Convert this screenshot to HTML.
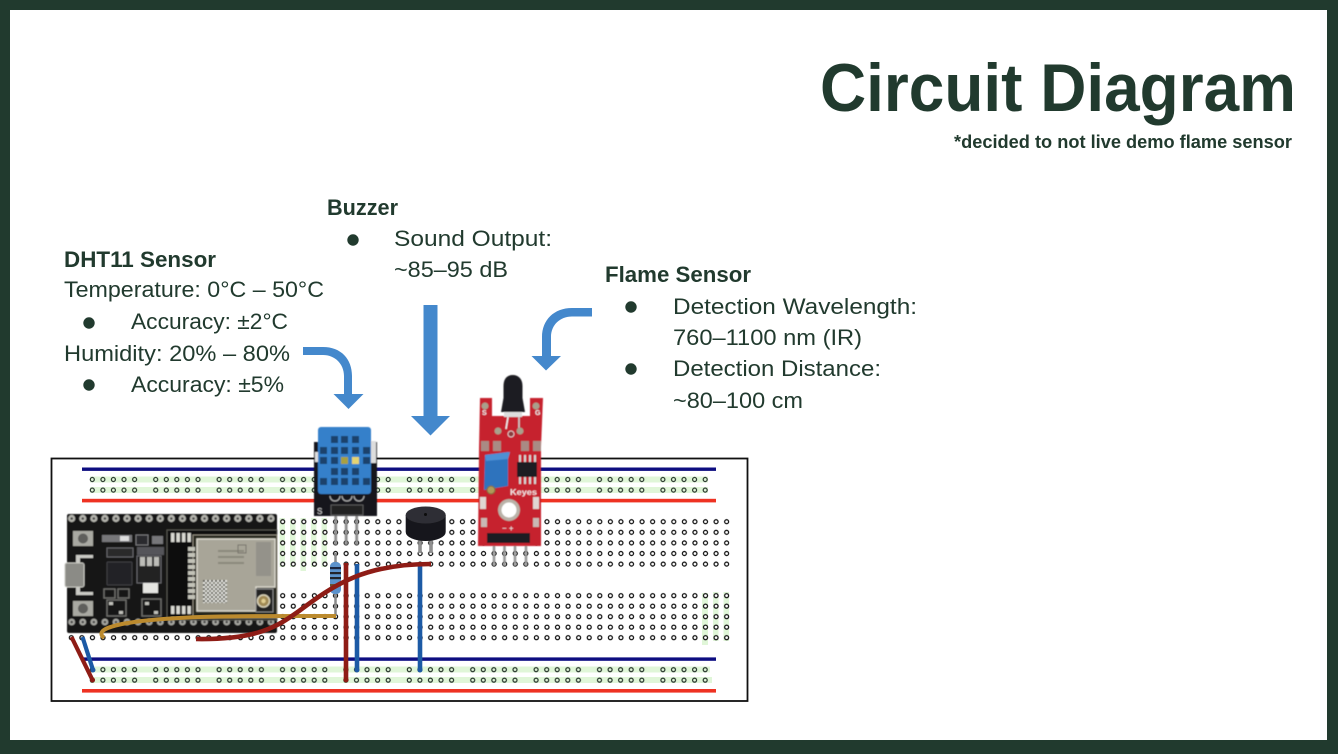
<!DOCTYPE html>
<html>
<head>
<meta charset="utf-8">
<title>Circuit Diagram</title>
<style>
html,body{margin:0;padding:0;width:1338px;height:754px;overflow:hidden;background:#213A2E}
svg{display:block}
text{font-family:"Liberation Sans",sans-serif;fill:#213A2E}
.r{font-size:22.5px}
.b{font-size:22.5px;font-weight:bold}
</style>
</head>
<body>
<svg width="1338" height="754" viewBox="0 0 1338 754" xmlns="http://www.w3.org/2000/svg">
<defs>
<pattern id="grid" patternUnits="userSpaceOnUse" x="66.02" y="516.4" width="10.57" height="10.6">
<circle cx="5.28" cy="5.3" r="2" fill="#fff" stroke="#111" stroke-width="1.25"/>
</pattern>
<pattern id="grid2" patternUnits="userSpaceOnUse" x="66.02" y="590.4" width="10.57" height="10.5">
<circle cx="5.28" cy="5.25" r="2" fill="#fff" stroke="#111" stroke-width="1.25"/>
</pattern>
<pattern id="rail" patternUnits="userSpaceOnUse" x="87" y="474.2" width="63.4" height="10.6">
<g fill="none" stroke="#25332a" stroke-width="1.2">
<circle cx="5.3" cy="5.3" r="2"/><circle cx="15.9" cy="5.3" r="2"/><circle cx="26.4" cy="5.3" r="2"/><circle cx="37" cy="5.3" r="2"/><circle cx="47.6" cy="5.3" r="2"/>
</g>
</pattern>
<pattern id="rail2" patternUnits="userSpaceOnUse" x="87" y="664.4" width="63.4" height="10.5">
<g fill="none" stroke="#25332a" stroke-width="1.2">
<circle cx="5.3" cy="5.25" r="2"/><circle cx="15.9" cy="5.25" r="2"/><circle cx="26.4" cy="5.25" r="2"/><circle cx="37" cy="5.25" r="2"/><circle cx="47.6" cy="5.25" r="2"/>
</g>
</pattern>
<pattern id="esph" patternUnits="userSpaceOnUse" x="66.2" y="513" width="11.07" height="11">
<circle cx="5.5" cy="5.5" r="3.6" fill="#b5b5ae"/><circle cx="5.5" cy="5.5" r="1.3" fill="#444"/>
</pattern>
<pattern id="esph2" patternUnits="userSpaceOnUse" x="66.2" y="616.5" width="11.07" height="11">
<circle cx="5.5" cy="5.5" r="3.4" fill="#a8a8a2"/><circle cx="5.5" cy="5.5" r="1.3" fill="#444"/>
</pattern>
<pattern id="pins" patternUnits="userSpaceOnUse" x="170" y="530" width="5.5" height="12">
<rect x="1" y="3" width="3.4" height="9" fill="#d9d9d2"/>
</pattern>
<pattern id="qr" patternUnits="userSpaceOnUse" x="203" y="580" width="4" height="4">
<rect width="4" height="4" fill="#e6e6e0"/><rect width="2" height="2" fill="#55554f"/><rect x="2" y="2" width="2" height="2" fill="#77776f"/>
</pattern>
<filter id="soft" x="-5%" y="-5%" width="110%" height="110%"><feGaussianBlur stdDeviation="0.6"/></filter>
<filter id="soft2" x="-5%" y="-5%" width="110%" height="110%"><feGaussianBlur stdDeviation="0.3"/></filter>
</defs>

<rect width="1338" height="754" fill="#213A2E"/>
<rect x="10" y="10" width="1317" height="730" fill="#fff"/>

<!-- Title -->
<text x="820" y="111" font-size="68" font-weight="bold" textLength="476" lengthAdjust="spacingAndGlyphs">Circuit Diagram</text>
<text x="954" y="148" font-size="18" font-weight="bold" textLength="338" lengthAdjust="spacingAndGlyphs">*decided to not live demo flame sensor</text>

<!-- DHT11 text -->
<text class="b" x="64" y="267" textLength="152" lengthAdjust="spacingAndGlyphs">DHT11 Sensor</text>
<text class="r" x="64" y="297" textLength="260" lengthAdjust="spacingAndGlyphs">Temperature: 0°C – 50°C</text>
<circle cx="89" cy="323" r="5.7" fill="#213A2E"/>
<text class="r" x="131" y="329" textLength="157" lengthAdjust="spacingAndGlyphs">Accuracy: ±2°C</text>
<text class="r" x="64" y="361" textLength="226" lengthAdjust="spacingAndGlyphs">Humidity: 20% – 80%</text>
<circle cx="89" cy="385" r="5.7" fill="#213A2E"/>
<text class="r" x="131" y="392" textLength="153" lengthAdjust="spacingAndGlyphs">Accuracy: ±5%</text>

<!-- Buzzer text -->
<text class="b" x="327" y="215" textLength="71" lengthAdjust="spacingAndGlyphs">Buzzer</text>
<circle cx="353" cy="240" r="5.7" fill="#213A2E"/>
<text class="r" x="394" y="246" textLength="158" lengthAdjust="spacingAndGlyphs">Sound Output:</text>
<text class="r" x="394" y="277" textLength="114" lengthAdjust="spacingAndGlyphs">~85–95 dB</text>

<!-- Flame text -->
<text class="b" x="605" y="282" textLength="146" lengthAdjust="spacingAndGlyphs">Flame Sensor</text>
<circle cx="631" cy="307" r="5.7" fill="#213A2E"/>
<text class="r" x="673" y="314" textLength="244" lengthAdjust="spacingAndGlyphs">Detection Wavelength:</text>
<text class="r" x="673" y="345" textLength="189" lengthAdjust="spacingAndGlyphs">760–1100 nm (IR)</text>
<circle cx="631" cy="369" r="5.7" fill="#213A2E"/>
<text class="r" x="673" y="376" textLength="208" lengthAdjust="spacingAndGlyphs">Detection Distance:</text>
<text class="r" x="673" y="408" textLength="130" lengthAdjust="spacingAndGlyphs">~80–100 cm</text>

<!-- Breadboard -->
<rect x="51.5" y="458.5" width="696" height="242.5" fill="#fff" stroke="#111" stroke-width="1.8"/>
<g filter="url(#soft2)">
<rect x="82" y="467.5" width="634" height="3.4" fill="#0b0b80"/>
<rect x="82" y="498.8" width="634" height="3.6" fill="#ee3124"/>
<rect x="82" y="657.4" width="634" height="3.4" fill="#0b0b80"/>
<rect x="82" y="689" width="634" height="3.6" fill="#ee3124"/>
<!-- green strips -->
<rect x="90" y="476.5" width="618" height="6" fill="#e0f6d8"/>
<rect x="90" y="487" width="618" height="6" fill="#e0f6d8"/>
<rect x="90" y="666.5" width="620" height="6" fill="#e0f6d8"/>
<rect x="90" y="677" width="622" height="6" fill="#e0f6d8"/>
<g fill="#e0f6d8">
<rect x="279.5" y="518" width="5.5" height="49"/><rect x="290" y="518" width="5.5" height="49"/><rect x="300.5" y="518" width="5.5" height="53"/><rect x="311" y="518" width="5.5" height="49"/><rect x="321.5" y="518" width="5.5" height="49"/>
<rect x="702" y="593" width="6" height="52"/><rect x="713" y="592" width="5.5" height="49"/><rect x="723.5" y="592" width="5.5" height="49"/>
</g>
<!-- holes -->
<rect x="87" y="474.2" width="634" height="21" fill="url(#rail)"/>
<rect x="87" y="664.4" width="634" height="21" fill="url(#rail2)"/>
<rect x="66.02" y="516.4" width="665.9" height="53" fill="url(#grid)"/>
<rect x="66.02" y="590.4" width="665.9" height="52.5" fill="url(#grid2)"/>
</g>

<!-- ESP32 board -->
<g filter="url(#soft)">
<rect x="67" y="514" width="210" height="119" rx="2" fill="#141416"/>
<rect x="67" y="514" width="210" height="11" fill="url(#esph)"/>
<rect x="67" y="617" width="210" height="11" fill="url(#esph2)"/>
<!-- USB -->
<path d="M76 555 H93 V558 H80 V592 H93 V595 H76Z" fill="#c9c9c4"/>
<rect x="65" y="563" width="19" height="24" rx="2" fill="#8b8b86" stroke="#c6c6c0" stroke-width="1"/>
<!-- Buttons -->
<rect x="73" y="531" width="20" height="15" fill="#a9a9a2"/><circle cx="83" cy="538.5" r="5" fill="#5f5f5b"/>
<rect x="73" y="601" width="20" height="15" fill="#a9a9a2"/><circle cx="83" cy="608.5" r="5" fill="#5f5f5b"/>
<!-- small parts -->
<rect x="102" y="535" width="30" height="7" fill="#77777a"/><rect x="120" y="536" width="9" height="5" fill="#ddd"/>
<rect x="107" y="548" width="26" height="9" fill="#2a2a2c" stroke="#66666a" stroke-width="1"/>
<rect x="136" y="535" width="12" height="10" fill="#2b2b2d" stroke="#77777a" stroke-width="1"/>
<rect x="152" y="536" width="11" height="8" fill="#77777a"/>
<rect x="137" y="547" width="27" height="8" fill="#55555a"/>
<!-- IC -->
<rect x="107" y="562" width="25" height="23" rx="1" fill="#232327" stroke="#3c3c40" stroke-width="1.2"/>
<!-- Regulator -->
<rect x="137" y="556" width="24" height="27" fill="#222224" stroke="#66666a" stroke-width="1"/>
<rect x="140" y="557" width="5" height="9" fill="#bdbdb8"/><rect x="147" y="557" width="5" height="9" fill="#bdbdb8"/><rect x="154" y="557" width="5" height="9" fill="#bdbdb8"/>
<rect x="143" y="583" width="15" height="10" fill="#e6e6e2"/>
<!-- lower squares -->
<g fill="none" stroke="#6e6e6a" stroke-width="1.4">
<rect x="104" y="589" width="11" height="9"/><rect x="118" y="589" width="11" height="9"/>
<rect x="107" y="600" width="19" height="16"/><rect x="142" y="599" width="19" height="17"/>
</g>
<g fill="#c0c0ba"><rect x="109" y="602" width="4" height="3"/><rect x="119" y="611" width="4" height="3"/><rect x="145" y="602" width="4" height="3"/><rect x="154" y="611" width="4" height="3"/></g>
<!-- Module -->
<rect x="167" y="530" width="110" height="90" fill="#0f0f11" stroke="#55554f" stroke-width="1"/>
<rect x="170" y="530" width="22" height="12" fill="url(#pins)"/>
<rect x="170" y="606" width="22" height="12" fill="url(#pins)"/>
<rect x="193" y="535" width="84" height="83" fill="#26261f" stroke="#8e897c" stroke-width="1"/>
<g fill="#c3c3b8">
<rect x="188" y="547" width="7" height="4"/><rect x="188" y="553" width="7" height="4"/><rect x="188" y="559" width="7" height="4"/><rect x="188" y="565" width="7" height="4"/><rect x="188" y="571" width="7" height="4"/><rect x="188" y="577" width="7" height="4"/><rect x="188" y="583" width="7" height="4"/><rect x="188" y="589" width="7" height="4"/><rect x="188" y="595" width="7" height="4"/>
</g>
<path d="M197 539 H275 V587 H256 V611 H197Z" fill="#a8a598" stroke="#d9d7cc" stroke-width="1.5"/>
<rect x="203" y="580" width="24" height="23" fill="url(#qr)"/>
<rect x="218" y="550" width="26" height="2" fill="#8a887c"/><rect x="218" y="556" width="26" height="2" fill="#8a887c"/><rect x="218" y="562" width="26" height="2" fill="#8a887c"/>
<rect x="238" y="545" width="8" height="8" fill="none" stroke="#77756a" stroke-width="1"/>
<rect x="256" y="542" width="15" height="34" fill="#94928a"/>
<rect x="256" y="589" width="17" height="23" fill="#202020" stroke="#888" stroke-width="1"/>
<circle cx="263.5" cy="601" r="6" fill="#a08a55" stroke="#d6d0b8" stroke-width="1.5"/>
<circle cx="263.5" cy="601" r="2.2" fill="#e0cd90"/>
</g>

<!-- resistor -->
<g filter="url(#soft2)">
<line x1="335.5" y1="553" x2="335.5" y2="616" stroke="#8a8a8a" stroke-width="2.5"/>
<rect x="330" y="562" width="11" height="32" rx="4.5" fill="#5b92cc"/>
<rect x="330" y="567" width="11" height="2.2" fill="#1b2740"/><rect x="330" y="572" width="11" height="2.2" fill="#20242a"/><rect x="330" y="577" width="11" height="2.2" fill="#20242a"/><rect x="330" y="584" width="11" height="2.2" fill="#6a5230"/>
</g>

<!-- wires -->
<g fill="none" stroke-linecap="butt" filter="url(#soft2)">
<path d="M104 638 C96 631 108 627 122 624 C170 615 250 616 336 616" stroke="#bb8a2d" stroke-width="4"/>
<line x1="82.5" y1="637" x2="93" y2="670" stroke="#1f5aa5" stroke-width="4.2"/>
<line x1="71.5" y1="637" x2="92.5" y2="680" stroke="#8e1a12" stroke-width="4.2"/>
<line x1="357" y1="564" x2="357" y2="670" stroke="#1f5aa5" stroke-width="4.6"/>
<line x1="420" y1="564" x2="420" y2="670" stroke="#1f5aa5" stroke-width="4.6"/>
<path d="M196 639 C258 640 278 626 299 611 C335 584 365 564 431 564" stroke="#8e1a12" stroke-width="4.6"/>
<line x1="346" y1="563" x2="346" y2="680" stroke="#8e1a12" stroke-width="4.6"/>
</g>
<g fill="#8e1a12"><circle cx="92.5" cy="680" r="2.5"/><circle cx="346" cy="680" r="2.5"/></g>
<g fill="#1f5aa5"><circle cx="93" cy="670" r="2.5"/><circle cx="357" cy="670" r="2.5"/><circle cx="420" cy="670" r="2.5"/></g>

<!-- DHT11 -->
<g filter="url(#soft)">
<g stroke="#8f8f8f" stroke-width="2.8"><line x1="335.7" y1="512" x2="335.7" y2="545"/><line x1="346.2" y1="512" x2="346.2" y2="545"/><line x1="356.7" y1="512" x2="356.7" y2="545"/></g>
<rect x="314" y="442" width="63" height="74" fill="#14141a"/>
<rect x="370" y="441" width="6" height="22" fill="#ddd"/>
<rect x="315" y="452" width="4" height="10" fill="#ddd"/>
<rect x="331" y="505" width="32" height="10" fill="#222" stroke="#666" stroke-width="0.8"/>
<path d="M330 496 a5 5 0 0 0 10 0 M342 496 a5 5 0 0 0 10 0 M354 496 a5 5 0 0 0 10 0" fill="none" stroke="#aaa" stroke-width="1.2"/>
<rect x="318" y="427" width="53" height="67" rx="3" fill="#3580ca"/>
<g fill="#1d426c">
<rect x="331" y="436" width="7" height="7"/><rect x="341" y="436" width="7" height="7"/><rect x="352" y="436" width="7" height="7"/>
<rect x="320" y="447" width="7" height="7"/><rect x="331" y="447" width="7" height="7"/><rect x="341" y="447" width="7" height="7"/><rect x="352" y="447" width="7" height="7"/><rect x="363" y="447" width="7" height="7"/>
<rect x="320" y="457" width="7" height="7"/><rect x="331" y="457" width="7" height="7"/><rect x="363" y="457" width="7" height="7"/>
<rect x="331" y="468" width="7" height="7"/><rect x="341" y="468" width="7" height="7"/><rect x="352" y="468" width="7" height="7"/>
<rect x="320" y="478" width="7" height="7"/><rect x="331" y="478" width="7" height="7"/><rect x="341" y="478" width="7" height="7"/><rect x="352" y="478" width="7" height="7"/><rect x="363" y="478" width="7" height="7"/>
</g>
<rect x="341" y="457" width="7" height="7" fill="#a8a040"/><rect x="352" y="457" width="7" height="7" fill="#e5d470"/>
<text x="317" y="514" font-size="8" style="fill:#ddd">S</text>
</g>

<!-- Buzzer -->
<g filter="url(#soft2)">
<g stroke="#8f8f8f" stroke-width="3.6"><line x1="420" y1="538" x2="420" y2="553"/><line x1="431" y1="538" x2="431" y2="553"/></g>
<path d="M405.7 515 V532 A20 9 0 0 0 445.7 532 V515Z" fill="#18181b"/>
<ellipse cx="425.7" cy="515" rx="20" ry="8.5" fill="#2f2f34"/>
<circle cx="425.5" cy="514.5" r="1.5" fill="#0b0b0b"/>
</g>

<!-- Flame sensor -->
<g filter="url(#soft)">
<g stroke="#999" stroke-width="2.6"><line x1="494" y1="540" x2="494" y2="566"/><line x1="504.5" y1="540" x2="504.5" y2="566"/><line x1="515" y1="540" x2="515" y2="566"/><line x1="526" y1="540" x2="526" y2="566"/></g>
<path d="M480 398 H492 V416 H530 V398 H543 L541 447 L541 546 L478 546 L479 450Z" fill="#c6212e"/>
<path d="M501 412 L503.5 398 V386 C503.5 379 507 375 512.8 375 C518.5 375 522.5 379 522.5 386 V398 L525 412Z" fill="#1f1f22"/>
<rect x="504" y="412" width="18" height="5" fill="#ddd"/>
<line x1="508" y1="417" x2="506" y2="429" stroke="#eee" stroke-width="1.6"/><line x1="519" y1="417" x2="519" y2="429" stroke="#ccc" stroke-width="1.6"/>
<g fill="#a9a08c"><circle cx="485" cy="406" r="3.5"/><circle cx="536" cy="406" r="3.5"/><circle cx="498" cy="431" r="3.5"/><circle cx="520" cy="431" r="3.5"/></g>
<g fill="#a98a84"><rect x="481" y="441" width="8" height="10"/><rect x="493" y="441" width="8" height="10"/><rect x="521" y="441" width="8" height="10"/><rect x="533" y="441" width="8" height="10"/></g>
<circle cx="511" cy="434" r="3" fill="#8a3a3a" stroke="#e6c8c8" stroke-width="1"/>
<path d="M485 455 L508 452 L508 486 L484 490Z" fill="#2f73bd"/>
<path d="M485 455 L510 452 L508 459 L486 461Z" fill="#4d90d4"/>
<circle cx="491" cy="490" r="4" fill="#b09a5a" stroke="#7a6a3a" stroke-width="1"/>
<rect x="517" y="462" width="20" height="15" fill="#1c1c20"/>
<g fill="#d5d5d5"><rect x="519" y="455" width="2" height="7"/><rect x="524" y="455" width="2" height="7"/><rect x="529" y="455" width="2" height="7"/><rect x="534" y="455" width="2" height="7"/><rect x="519" y="477" width="2" height="7"/><rect x="524" y="477" width="2" height="7"/><rect x="529" y="477" width="2" height="7"/><rect x="534" y="477" width="2" height="7"/></g>
<text x="510" y="495" font-size="8.5" font-weight="bold" textLength="27" lengthAdjust="spacingAndGlyphs" style="fill:#f3e6e6">Keyes</text>
<circle cx="509" cy="510" r="11" fill="#b9b2a8"/><circle cx="509" cy="510" r="7.5" fill="#fff"/>
<rect x="480" y="497" width="6" height="12" fill="#e0d6d2"/><rect x="533" y="497" width="6" height="12" fill="#e0d6d2"/>
<g fill="#c9b8b4"><rect x="481" y="518" width="6" height="9"/><rect x="533" y="518" width="6" height="9"/></g>
<text x="502" y="531" font-size="8" style="fill:#eee">− +</text>
<text x="482" y="415" font-size="7" font-weight="bold" style="fill:#eee">S</text>
<text x="535" y="415" font-size="7" font-weight="bold" style="fill:#eee">G</text>
<rect x="487" y="533" width="43" height="10" fill="#1c1c20"/>
</g>

<!-- Arrows -->
<g fill="#4488CC">
<path d="M423.5 305 H437.5 V416 H450 L430.5 435.5 L411 416 H423.5Z"/>
<path d="M303 347 H323 C341 347 352 359 352 376 V394 H363.5 L348.5 409 L333.5 394 H344 V376 C344 364 335 355 323 355 H303Z"/>
<path d="M592 308 H572 C554 308 542 320 542 337 V356 H531.5 L546 370.5 L561 356 H551 V337 C551 325 560 316.5 572 316.5 H592Z"/>
</g>
</svg>
</body>
</html>
